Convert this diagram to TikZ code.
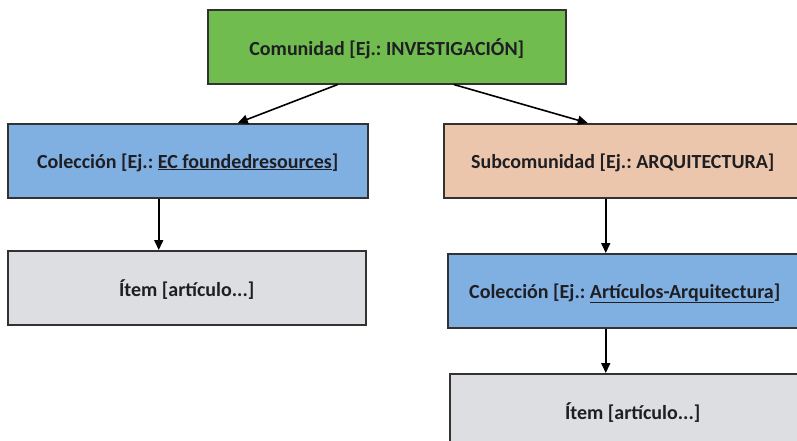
\documentclass[tikz,border=0pt]{standalone}
\usepackage{fontspec}
\setmainfont{Carlito}
\usetikzlibrary{calc,arrows.meta}
\definecolor{cgreen}{RGB}{112,188,78}
\definecolor{cblue}{RGB}{128,176,226}
\definecolor{csalmon}{RGB}{236,198,172}
\definecolor{cgray}{RGB}{221,222,225}
\definecolor{cborder}{RGB}{50,50,50}
\definecolor{ctext}{RGB}{30,30,35}
\frenchspacing
\begin{document}
\begin{tikzpicture}[x=1pt,y=-1pt,
  box/.style={draw=cborder,line width=1.5pt,anchor=north west,minimum height=74pt,
    inner sep=0pt,text depth=0pt,font=\fontsize{20}{24}\selectfont\bfseries,text=ctext},
  arr/.style={draw=black,line width=1.6pt,-{Triangle[length=10pt,width=9pt]}}]
\useasboundingbox (0,0) rectangle (797,440);
\clip (0,0) rectangle (797,440);
\fill[white] (0,0) rectangle (797,440);
\node[box,fill=cgreen,minimum width=358pt] (comm) at (207,9) {Comunidad [Ej.: INVESTIGACIÓN]};
\node[box,fill=cblue,minimum width=360pt] (colL) at (7,123) {Colección [Ej.: \underline{EC foundedresources}]};
\node[box,fill=csalmon,minimum width=358pt] (sub) at (443,123) {Subcomunidad [Ej.: ARQUITECTURA]};
\node[box,fill=cgray,minimum width=358pt] (itemL) at (7,250) {Ítem [artículo...]};
\node[box,fill=cblue,minimum width=354pt] (colR) at (447,253) {Colección [Ej.: \underline{Artículos-Arquitectura}]};
\node[box,fill=cgray,minimum width=366pt] (itemR) at (449,373) {Ítem [artículo...]};
\draw[arr] ($(comm.south)+(-49,0)$) -- ($(colL.north)+(50,0)$);
\draw[arr] ($(comm.south)+(67,0)$) -- ($(sub.north)+(-35,0)$);
\coordinate (a1) at ($(colL.south)+(-29,0)$);
\draw[arr] (a1) -- (a1 |- itemL.north);
\coordinate (a2) at ($(sub.south)+(-17,0)$);
\draw[arr] (a2) -- (a2 |- colR.north);
\coordinate (a3) at ($(colR.south)+(-19,0)$);
\draw[arr] (a3) -- (a3 |- itemR.north);
\end{tikzpicture}
\end{document}
